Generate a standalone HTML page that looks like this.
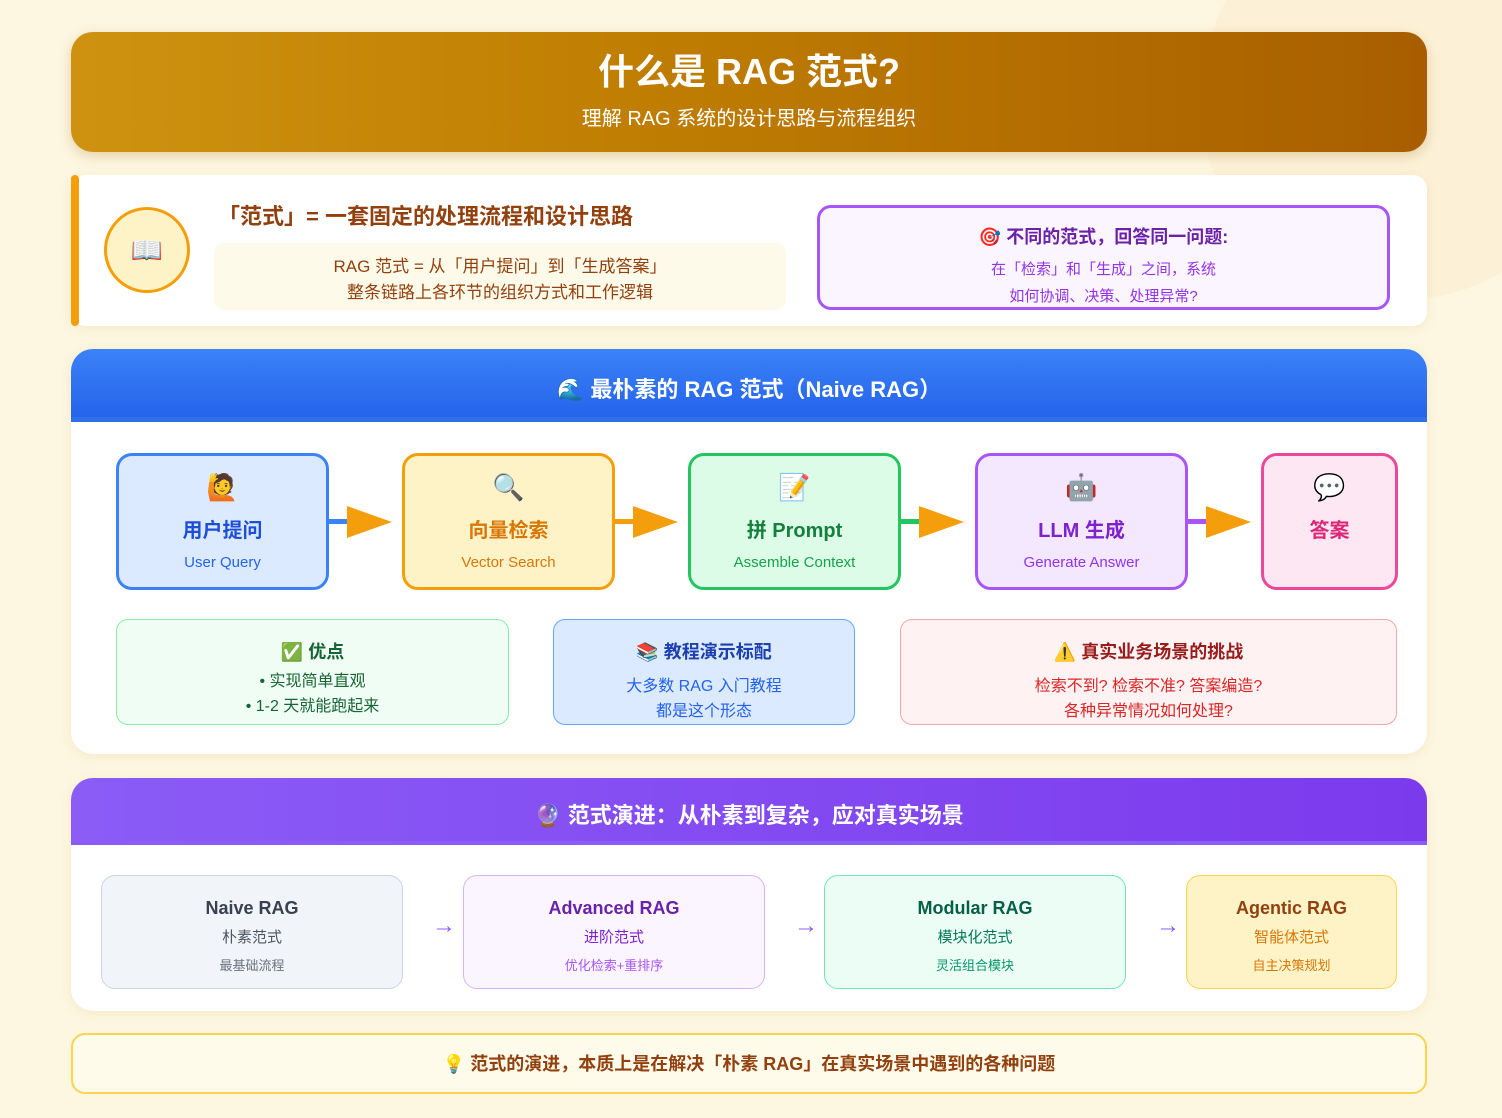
<!DOCTYPE html>
<html><head><meta charset="utf-8"><style>
*{box-sizing:border-box;margin:0;padding:0}
body{width:1502px;height:1118px;background:#fdf6e0;font-family:"Liberation Sans","Noto Sans CJK SC",sans-serif;position:relative;overflow:hidden}
.a{position:absolute}
.c{text-align:center}
.fb{position:absolute;top:453px;height:137px;width:213px;border:3px solid;border-radius:16px;text-align:center}
.fb .i{position:absolute;top:16px;left:0;right:0;font-size:26px;line-height:30px}
.fb .t{position:absolute;top:58px;left:0;right:0;font-size:20px;font-weight:bold}
.fb .s{position:absolute;top:98px;left:0;right:0;font-size:15px}
.ln{position:absolute;top:519px;height:5px;width:24px}
.tri{position:absolute;top:506px;width:0;height:0;border-top:16px solid transparent;border-bottom:16px solid transparent;border-left:45px solid #f59e0b}
.lc{position:absolute;top:619px;height:106px;border:1.5px solid;border-radius:12px;text-align:center}
.lc .t{margin-top:20px;font-size:18px;font-weight:bold;line-height:24px}
.lc .l{font-size:16px;line-height:25px}
.eb{position:absolute;top:875px;height:114px;border:1.5px solid;border-radius:14px;text-align:center}
.eb .t{margin-top:20px;font-size:18px;font-weight:bold;line-height:24px}
.eb .s{margin-top:8px;font-size:15px;line-height:20px}
.eb .x{margin-top:9px;font-size:13px;line-height:18px}
.ar{position:absolute;top:912px;font-size:24px;color:#8b5cf6}
</style></head><body>
<div class="a" style="left:1200px;top:-100px;width:400px;height:400px;border-radius:50%;background:#fbefd0;opacity:.6"></div>
<!-- header -->
<div class="a c" style="left:71px;top:32px;width:1356px;height:120px;border-radius:22px;background:linear-gradient(90deg,#cf9210,#c07f02 40%,#a85e00);box-shadow:0 4px 12px rgba(160,100,0,.25)">
<div style="margin-top:18px;font-size:36px;font-weight:bold;color:#fff;line-height:44px">什么是 RAG 范式?</div>
<div style="margin-top:12px;font-size:20px;color:#fff;line-height:26px">理解 RAG 系统的设计思路与流程组织</div>
</div>
<!-- definition -->
<div class="a" style="left:71px;top:175px;width:1356px;height:151px;background:#fff;border-radius:14px;box-shadow:0 2px 10px rgba(200,160,60,.15)"></div>
<div class="a" style="left:71px;top:175px;width:8px;height:151px;background:#f59e0b;border-radius:4px"></div>
<div class="a c" style="left:104px;top:207px;width:86px;height:86px;border-radius:50%;background:#fef3c7;border:3px solid #f59e0b;font-size:26px;line-height:80px">📖</div>
<div class="a" style="left:218px;top:202px;font-size:22px;font-weight:bold;color:#92400e;line-height:30px">「范式」= 一套固定的处理流程和设计思路</div>
<div class="a c" style="left:214px;top:243px;width:572px;height:67px;background:#fefaea;border-radius:10px;font-size:17px;color:#92400e;line-height:26px;padding-top:11px">RAG 范式 = 从「用户提问」到「生成答案」<br>整条链路上各环节的组织方式和工作逻辑</div>
<div class="a c" style="left:817px;top:205px;width:573px;height:105px;background:#faf5ff;border:3px solid #a855f7;border-radius:14px">
<div style="margin-top:16px;font-size:18px;font-weight:bold;color:#6b21a8;line-height:26px">🎯 不同的范式，回答同一问题:</div>
<div style="margin-top:6px;font-size:15px;color:#9333ea;line-height:27px">在「检索」和「生成」之间，系统<br>如何协调、决策、处理异常?</div>
</div>
<!-- naive section -->
<div class="a" style="left:71px;top:349px;width:1356px;height:405px;background:#fff;border-radius:22px;box-shadow:0 2px 10px rgba(200,160,60,.15)"></div>
<div class="a c" style="left:71px;top:349px;width:1356px;height:73px;border-radius:22px 22px 0 0;background:linear-gradient(180deg,#3b82f6,#2563eb);border-bottom:5px solid #2f6fe8">
<div style="margin-top:26px;font-size:22px;font-weight:bold;color:#fff;line-height:30px">🌊 最朴素的 RAG 范式（Naive RAG）</div>
</div>
<div class="fb" style="left:116px;border-color:#3b82f6;background:#dbeafe"><div class="i">🙋</div><div class="t" style="color:#1d4ed8">用户提问</div><div class="s" style="color:#2563eb">User Query</div></div>
<div class="fb" style="left:402px;border-color:#f59e0b;background:#fef3c7"><div class="i">🔍</div><div class="t" style="color:#d97706">向量检索</div><div class="s" style="color:#d97706">Vector Search</div></div>
<div class="fb" style="left:688px;border-color:#22c55e;background:#dcfce7"><div class="i">📝</div><div class="t" style="color:#15803d">拼 Prompt</div><div class="s" style="color:#16a34a">Assemble Context</div></div>
<div class="fb" style="left:975px;border-color:#a855f7;background:#f3e8ff"><div class="i">🤖</div><div class="t" style="color:#7e22ce">LLM 生成</div><div class="s" style="color:#9333ea">Generate Answer</div></div>
<div class="fb" style="left:1261px;width:137px;border-color:#ec4899;background:#fce7f3"><div class="i">💬</div><div class="t" style="color:#db2777">答案</div></div>
<div class="ln" style="left:328px;background:#3b82f6"></div><div class="tri" style="left:347px"></div>
<div class="ln" style="left:614px;background:#f59e0b"></div><div class="tri" style="left:633px"></div>
<div class="ln" style="left:900px;background:#22c55e"></div><div class="tri" style="left:919px"></div>
<div class="ln" style="left:1187px;background:#a855f7"></div><div class="tri" style="left:1206px"></div>
<div class="lc" style="left:116px;width:393px;background:#f0fdf4;border-color:#86efac"><div class="t" style="color:#166534">✅ 优点</div><div class="l" style="color:#166534;margin-top:5px">• 实现简单直观<br>• 1-2 天就能跑起来</div></div>
<div class="lc" style="left:553px;width:302px;background:#dbeafe;border-color:#60a5fa"><div class="t" style="color:#1e40af">📚 教程演示标配</div><div class="l" style="color:#2563eb;margin-top:10px">大多数 RAG 入门教程<br>都是这个形态</div></div>
<div class="lc" style="left:900px;width:497px;background:#fef2f2;border-color:#fca5a5"><div class="t" style="color:#991b1b">⚠️ 真实业务场景的挑战</div><div class="l" style="color:#dc2626;margin-top:10px">检索不到? 检索不准? 答案编造?<br>各种异常情况如何处理?</div></div>
<!-- evolution -->
<div class="a" style="left:71px;top:778px;width:1356px;height:233px;background:#fff;border-radius:22px;box-shadow:0 2px 10px rgba(200,160,60,.15)"></div>
<div class="a c" style="left:71px;top:778px;width:1356px;height:67px;border-radius:22px 22px 0 0;background:linear-gradient(90deg,#8b5cf6,#7c3aed);border-bottom:4px solid #8b5cf6">
<div style="margin-top:23px;font-size:22px;font-weight:bold;color:#fff;line-height:30px">🔮 范式演进：从朴素到复杂，应对真实场景</div>
</div>
<div class="eb" style="left:101px;width:302px;background:#f1f5f9;border-color:#cbd5e1"><div class="t" style="color:#374151">Naive RAG</div><div class="s" style="color:#4b5563">朴素范式</div><div class="x" style="color:#6b7280">最基础流程</div></div>
<div class="ar" style="left:432px">→</div>
<div class="eb" style="left:463px;width:302px;background:#faf5ff;border-color:#d8b4fe"><div class="t" style="color:#6b21a8">Advanced RAG</div><div class="s" style="color:#7e22ce">进阶范式</div><div class="x" style="color:#a855f7">优化检索+重排序</div></div>
<div class="ar" style="left:794px">→</div>
<div class="eb" style="left:824px;width:302px;background:#ecfdf5;border-color:#6ee7b7"><div class="t" style="color:#065f46">Modular RAG</div><div class="s" style="color:#047857">模块化范式</div><div class="x" style="color:#059669">灵活组合模块</div></div>
<div class="ar" style="left:1156px">→</div>
<div class="eb" style="left:1186px;width:211px;background:#fef3c7;border-color:#fcd34d"><div class="t" style="color:#92400e">Agentic RAG</div><div class="s" style="color:#d97706">智能体范式</div><div class="x" style="color:#d97706">自主决策规划</div></div>
<!-- footer -->
<div class="a c" style="left:71px;top:1033px;width:1356px;height:61px;background:#fffbeb;border:2px solid #fcd34d;border-radius:14px;font-size:18px;font-weight:bold;color:#92400e;line-height:59px">💡 范式的演进，本质上是在解决「朴素 RAG」在真实场景中遇到的各种问题</div>
</body></html>
